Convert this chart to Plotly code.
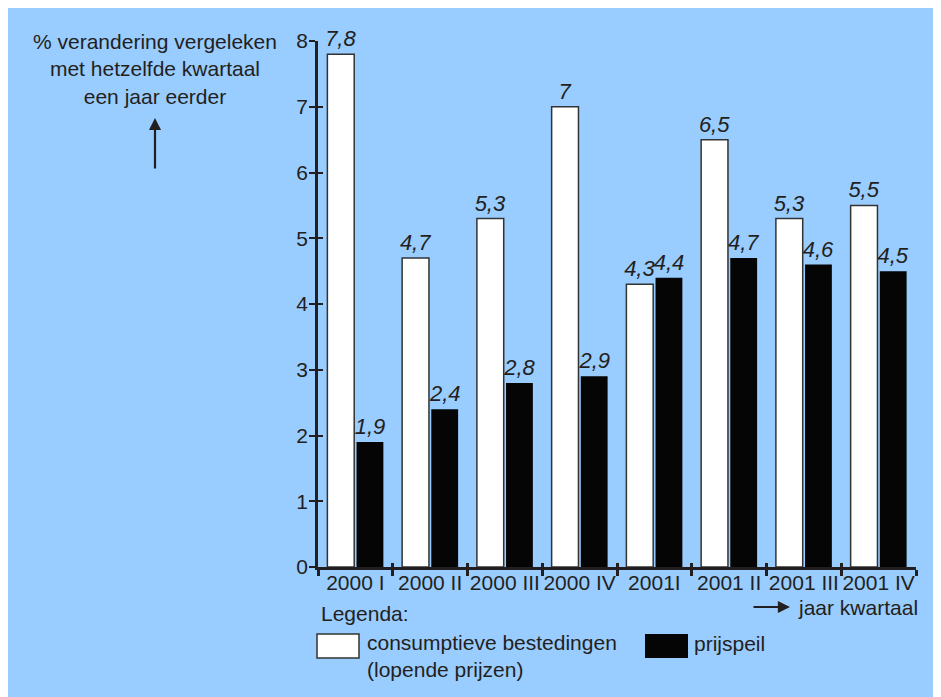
import plotly.graph_objects as go

categories = ["2000 I", "2000 II", "2000 III", "2000 IV", "2001I", "2001 II", "2001 III", "2001 IV"]
consumptie = [7.8, 4.7, 5.3, 7.0, 4.3, 6.5, 5.3, 5.5]
prijspeil = [1.9, 2.4, 2.8, 2.9, 4.4, 4.7, 4.6, 4.5]
y_ticks = [0, 1, 2, 3, 4, 5, 6, 7, 8]

W, H = 941, 697
OFF = 8  # page body margin
L, R, T, B = 310, 33, 33, 138
PW, PH = W - L - R, H - T - B
TXT = "#231f20"
FONT = "Liberation Sans, Arial, sans-serif"
FS = 21


def px(x):
    return (x - OFF - L) / PW


def py(y):
    return (H - B - (y - OFF)) / PH


def lab(vals):
    return [f"{v:g}".replace(".", ",") for v in vals]


fig = go.Figure()
fig.add_trace(go.Bar(
    x=categories, y=consumptie, name="consumptieve bestedingen",
    marker=dict(color="white", line=dict(color="#333333", width=1.5)),
    text=lab(consumptie), textposition="outside", cliponaxis=False,
    constraintext="none",
    textfont=dict(family=FONT, size=22, color=TXT, style="italic"),
))
fig.add_trace(go.Bar(
    x=categories, y=prijspeil, name="prijspeil",
    marker=dict(color="#050505", line=dict(width=0)),
    text=lab(prijspeil), textposition="outside", cliponaxis=False,
    constraintext="none",
    textfont=dict(family=FONT, size=22, color=TXT, style="italic"),
))
# invisible trace carrying the overlay axes (ticks crossing the axis lines)
fig.add_trace(go.Scatter(x=categories, y=[None] * len(categories), xaxis="x2", yaxis="y2",
                         showlegend=False, hoverinfo="skip", mode="markers"))

shapes = [
    dict(type="rect", xref="paper", yref="paper", x0=px(317), x1=px(359), y0=py(634), y1=py(658),
         fillcolor="white", line=dict(color="#333333", width=1.5)),
    dict(type="rect", xref="paper", yref="paper", x0=px(645), x1=px(688), y0=py(634), y1=py(658),
         fillcolor="#050505", line=dict(width=0)),
]

ann = [
    dict(x=px(155), y=py(69), xref="paper", yref="paper", showarrow=False,
         text="% verandering vergeleken<br>met hetzelfde kwartaal<br>een jaar eerder",
         align="center", xanchor="center", yanchor="middle"),
    dict(x=px(155), y=py(118), xref="paper", yref="paper", ax=0, ay=52, text="",
         showarrow=True, arrowhead=2, arrowsize=1.1, arrowwidth=2.2, arrowcolor=TXT),
    dict(x=px(790), y=py(607), xref="paper", yref="paper", ax=-38, ay=0, text="",
         showarrow=True, arrowhead=2, arrowsize=1.1, arrowwidth=2.2, arrowcolor=TXT),
    dict(x=px(796), y=py(607), xref="paper", yref="paper", showarrow=False,
         text="jaar kwartaal", xanchor="left", yanchor="middle"),
    dict(x=px(319), y=py(613), xref="paper", yref="paper", showarrow=False,
         text="Legenda:", xanchor="left", yanchor="middle"),
    dict(x=px(365), y=py(656), xref="paper", yref="paper", showarrow=False,
         text="consumptieve bestedingen<br>(lopende prijzen)", xanchor="left", yanchor="middle",
         align="left"),
    dict(x=px(692), y=py(643), xref="paper", yref="paper", showarrow=False,
         text="prijspeil", xanchor="left", yanchor="middle"),
]

fig.update_layout(
    width=W, height=H,
    margin=dict(l=L, r=R, t=T, b=B, pad=0),
    paper_bgcolor="#99ccff", plot_bgcolor="rgba(0,0,0,0)",
    font=dict(family=FONT, size=FS, color=TXT),
    barmode="group", bargap=0.22, bargroupgap=0.08,
    showlegend=False,
    shapes=shapes, annotations=ann,
    xaxis=dict(type="category", categoryorder="array", categoryarray=categories,
               range=[-0.5, 7.5], showline=True, linecolor=TXT, linewidth=2.5,
               ticks="outside", tickson="boundaries", ticklen=6, tickwidth=2.5, tickcolor=TXT,
               tickangle=0, automargin=False, ticklabelstandoff=-5,
               showgrid=False, zeroline=False, tickfont=dict(size=FS, color=TXT)),
    yaxis=dict(range=[0, 8], tickvals=y_ticks, showline=True, linecolor=TXT, linewidth=2.5,
               ticks="outside", ticklen=6, tickwidth=2, tickcolor=TXT, automargin=False,
               ticklabelstandoff=-3,
               showgrid=False, zeroline=False, tickfont=dict(size=FS, color=TXT)),
    xaxis2=dict(type="category", categoryorder="array", categoryarray=categories,
                range=[-0.5, 7.5], overlaying="x", anchor="y2", side="bottom",
                showline=False, showticklabels=False, ticks="inside", tickson="boundaries",
                ticklen=4, tickwidth=2.5, tickcolor=TXT, showgrid=False, zeroline=False),
    yaxis2=dict(range=[0, 8], tickvals=y_ticks, overlaying="y", anchor="x2", side="left",
                showline=False, showticklabels=False, ticks="inside", ticklen=5, tickwidth=2,
                tickcolor=TXT, showgrid=False, zeroline=False),
)

fig.write_html("out.html")
